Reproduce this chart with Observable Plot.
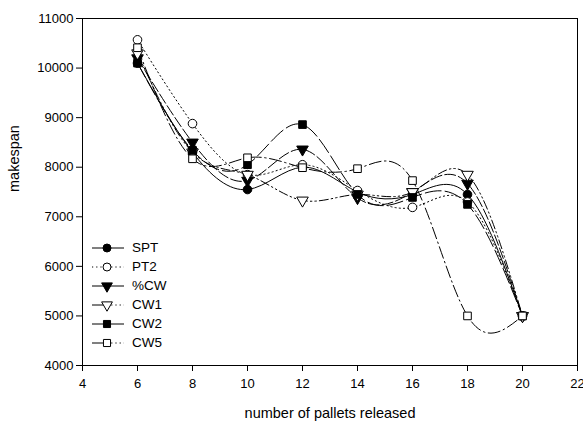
<!DOCTYPE html>
<html>
<head>
<meta charset="utf-8">
<script src="https://cdn.jsdelivr.net/npm/d3@7"></script>
<script src="https://cdn.jsdelivr.net/npm/@observablehq/plot@0.6"></script>
<style>
  html, body { margin: 0; padding: 0; background: #fff; }
  #wrap { position: relative; width: 583px; height: 426px; font-family: "Liberation Sans", Arial, sans-serif; }
  #legend { position: absolute; left: 90px; top: 238px; font-size: 13.5px; color: #000; }
  #legend .row { display: flex; align-items: center; height: 19px; }
  #legend svg { display: block; margin-right: 6px; }
</style>
</head>
<body>
<div id="wrap">
  <div id="chart"></div>
  <div id="legend"></div>
</div>
<script>
const pallets = [6, 8, 10, 12, 14, 16, 18, 20];
const seriesNames = ["SPT", "PT2", "%CW", "CW1", "CW2", "CW5"];
const SPT = [10100, 8300, 7550, 8000, 7500, 7450, 7450, 5000];
const PT2 = [10570, 8880, 7850, 8050, 7530, 7190, 7300, 5000];
const pctCW = [10200, 8500, 7730, 8360, 7380, 7500, 7670, 5000];
const CW1 = [10300, 8300, 7850, 7330, 7450, 7500, 7850, 5000];
const CW2 = [10100, 8340, 8050, 8860, 7450, 7390, 7250, 5000];
const CW5 = [10410, 8170, 8190, 7990, 7970, 7730, 5000, 5000];
const xTicks = [4, 6, 8, 10, 12, 14, 16, 18, 20, 22];
const yTicks = [4000, 5000, 6000, 7000, 8000, 9000, 10000, 11000];
const xLabel = "number of pallets released";
const yLabel = "makespan";

const triangleDown = {
  draw(context, size) {
    const y = -Math.sqrt(size / (Math.sqrt(3) * 3));
    context.moveTo(0, -y * 2);
    context.lineTo(-Math.sqrt(3) * y, y);
    context.lineTo(Math.sqrt(3) * y, y);
    context.closePath();
  }
};

const styles = {
  "SPT": {symbol: "circle", fill: "black", dash: null, legendRight: null},
  "PT2": {symbol: "circle", fill: "white", dash: "1.2,3", legendLeft: "1.2,3", legendRight: "1.2,3"},
  "%CW": {symbol: triangleDown, fill: "black", dash: "11,3"},
  "CW1": {symbol: triangleDown, fill: "white", dash: "9,3,1.5,3,1.5,3", legendRight: "1.2,3"},
  "CW2": {symbol: "square", fill: "black", dash: "16,4"},
  "CW5": {symbol: "square", fill: "white", dash: "12,3.5,1.5,3.5", legendRight: "1.2,3"}
};

const values = [SPT, PT2, pctCW, CW1, CW2, CW5];
const data = seriesNames.map((name, i) =>
  pallets.map((p, j) => ({series: name, x: p, y: values[i][j]})));

const marks = [
  Plot.frame({stroke: "black", strokeWidth: 1}),
  Plot.axisX({ticks: xTicks, tickSize: 6, tickPadding: 7, label: null, fontSize: 13}),
  Plot.axisY({ticks: yTicks, tickSize: 6, tickPadding: 3, tickFormat: d => String(d), label: null, fontSize: 13}),
  Plot.text([xLabel], {frameAnchor: "bottom", dy: 52, text: d => d, fontSize: 14.5}),
  Plot.text([yLabel], {frameAnchor: "left", dx: -68, rotate: -90, text: d => d, fontSize: 14.5})
];
data.forEach((rows, i) => {
  const st = styles[seriesNames[i]];
  marks.push(Plot.line(rows, {x: "x", y: "y", curve: "natural", stroke: "black", strokeWidth: 1, strokeDasharray: st.dash}));
});
data.forEach((rows, i) => {
  const st = styles[seriesNames[i]];
  marks.push(Plot.dot(rows, {x: "x", y: "y", symbol: () => st.symbol, r: 4.3, fill: st.fill, stroke: "black", strokeWidth: 1}));
});

const chart = Plot.plot({
  width: 583,
  height: 426,
  marginLeft: 82,
  marginRight: 6,
  marginTop: 18,
  marginBottom: 61,
  style: {fontFamily: "Liberation Sans, Arial, sans-serif", fontSize: "13px", background: "white", color: "black"},
  symbol: {type: "identity"},
  x: {domain: [4, 22]},
  y: {domain: [4000, 11000]},
  marks
});
document.getElementById("chart").appendChild(chart);

// legend
const legend = document.getElementById("legend");
seriesNames.forEach(name => {
  const st = styles[name];
  const row = document.createElement("div");
  row.className = "row";
  const svg = d3.create("svg").attr("width", 36).attr("height", 14);
  svg.append("line").attr("x1", 2).attr("x2", 17).attr("y1", 7).attr("y2", 7)
    .attr("stroke", "black").attr("stroke-width", 1)
    .attr("stroke-dasharray", st.legendLeft || null);
  svg.append("line").attr("x1", 17).attr("x2", 34).attr("y1", 7).attr("y2", 7)
    .attr("stroke", "black").attr("stroke-width", 1)
    .attr("stroke-dasharray", st.legendRight || null);
  const symType = typeof st.symbol === "string"
    ? (st.symbol === "circle" ? d3.symbolCircle : d3.symbolSquare) : st.symbol;
  svg.append("path").attr("d", d3.symbol(symType, 4.0 * 4.0 * Math.PI)())
    .attr("transform", "translate(17,7)").attr("fill", st.fill).attr("stroke", "black");
  row.appendChild(svg.node());
  const t = document.createElement("span");
  t.textContent = name;
  row.appendChild(t);
  legend.appendChild(row);
});
</script>
</body>
</html>
